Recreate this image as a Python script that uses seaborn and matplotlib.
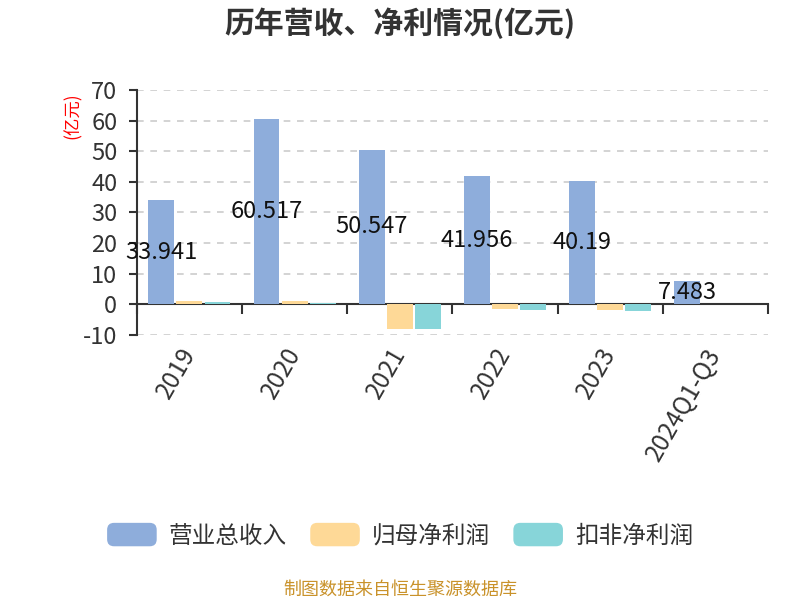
import matplotlib
matplotlib.use("Agg")
import matplotlib.pyplot as plt
import matplotlib.transforms as mtransforms
import seaborn as sns
import pandas as pd
from matplotlib.patches import FancyBboxPatch
from matplotlib.legend_handler import HandlerPatch
import matplotlib.patches as mpatches

years = ["2019", "2020", "2021", "2022", "2023", "2024Q1-Q3"]
revenue = [33.941, 60.517, 50.547, 41.956, 40.19, 7.483]
revenue_labels = ["33.941", "60.517", "50.547", "41.956", "40.19", "7.483"]
net_profit = [1.0, 1.1, -8.0, -1.6, -1.8, 0.0]
net_profit_deducted = [0.8, 0.5, -8.2, -1.7, -2.1, 0.0]
series = ["营业总收入", "归母净利润", "扣非净利润"]
colors = ["#8eaddb", "#fed997", "#87d5d9"]
yticks = [-10, 0, 10, 20, 30, 40, 50, 60, 70]

sns.set_theme(style="white")
plt.rcParams['font.family'] = ['Noto Sans CJK SC', 'DejaVu Sans']

df = pd.DataFrame({
    "year": years * 3,
    "value": revenue + net_profit + net_profit_deducted,
    "series": [series[0]] * 6 + [series[1]] * 6 + [series[2]] * 6,
})

fig = plt.figure(figsize=(8, 6), dpi=100)
ax = fig.add_axes([0.171, 0.4417, 0.789, 0.4083])
sns.barplot(data=df, x="year", y="value", hue="series", palette=colors,
            order=years, hue_order=series, width=0.8, gap=0.08, saturation=1,
            linewidth=0, edgecolor="none", ax=ax, legend=False, zorder=3)

ax.set_ylim(-10, 70)
ax.set_xlim(-0.5, len(years) - 0.5)
ax.set_yticks(yticks)
ax.set_yticklabels([str(t) for t in yticks], fontsize=17, color="#333333")
ax.yaxis.grid(True, linestyle=(0, (4, 4)), color="#cccccc", linewidth=1.2, zorder=0)
ax.xaxis.grid(False)
for s in ["top", "right"]:
    ax.spines[s].set_visible(False)
ax.spines["left"].set_color("#333333")
ax.spines["left"].set_linewidth(1.5)
ax.spines["bottom"].set_position(("data", 0))
ax.spines["bottom"].set_color("#333333")
ax.spines["bottom"].set_linewidth(1.5)
ax.spines["bottom"].set_zorder(2)
ax.tick_params(axis="y", length=6, width=1.5, color="#333333", left=True, pad=8)

ax.set_xticks([i - 0.5 for i in range(len(years) + 1)])
ax.set_xticklabels([])
ax.tick_params(axis="x", which="major", length=7, width=1.5, color="#333333", bottom=True)
ax.set_xticks(range(len(years)), minor=True)
ax.set_xticklabels(years, minor=True, rotation=60, ha="right", rotation_mode="anchor",
                   fontsize=17.5, color="#333333")
ax.tick_params(axis="x", which="minor", length=0, pad=28)
offset = mtransforms.ScaledTranslation(-11 / 100, 0, fig.dpi_scale_trans)
for lab in ax.get_xticklabels(minor=True):
    lab.set_transform(lab.get_transform() + offset)
ax.set_xlabel("")
ax.set_ylabel("")

# value labels on revenue bars
revenue_bars = ax.containers[0]
for bar, v, lab in zip(revenue_bars, revenue, revenue_labels):
    ax.text(bar.get_x() + bar.get_width() / 2, v / 2, lab,
            ha="center", va="center", fontsize=17, color="#111111", zorder=5)

fig.text(0.091, 0.808, "(亿元)", rotation=90, color="red", fontsize=12.5, ha="center", va="center")
fig.text(0.5, 0.962, "历年营收、净利情况(亿元)", ha="center", va="center",
         fontsize=21.5, fontweight="bold", color="#333333")
fig.text(0.5, 0.017, "制图数据来自恒生聚源数据库", ha="center", va="center",
         fontsize=13, color="#c9922a")


class RoundHandler(HandlerPatch):
    def create_artists(self, legend, orig_handle, xdescent, ydescent, width, height, fontsize, trans):
        p = FancyBboxPatch((-xdescent, -ydescent), width, height,
                           boxstyle="round,pad=0,rounding_size=5",
                           facecolor=orig_handle.get_facecolor(), edgecolor="none", transform=trans)
        return [p]


handles = [mpatches.Patch(facecolor=c, label=s) for c, s in zip(colors, series)]
fig.legend(handles=handles, loc="center", bbox_to_anchor=(0.5, 0.108), ncol=3, frameon=False,
           fontsize=17, handlelength=2.1, handleheight=1.15, handletextpad=0.5, columnspacing=1.0,
           handler_map={mpatches.Patch: RoundHandler()}, labelcolor="#333333")

fig.savefig("out.png", dpi=100)
